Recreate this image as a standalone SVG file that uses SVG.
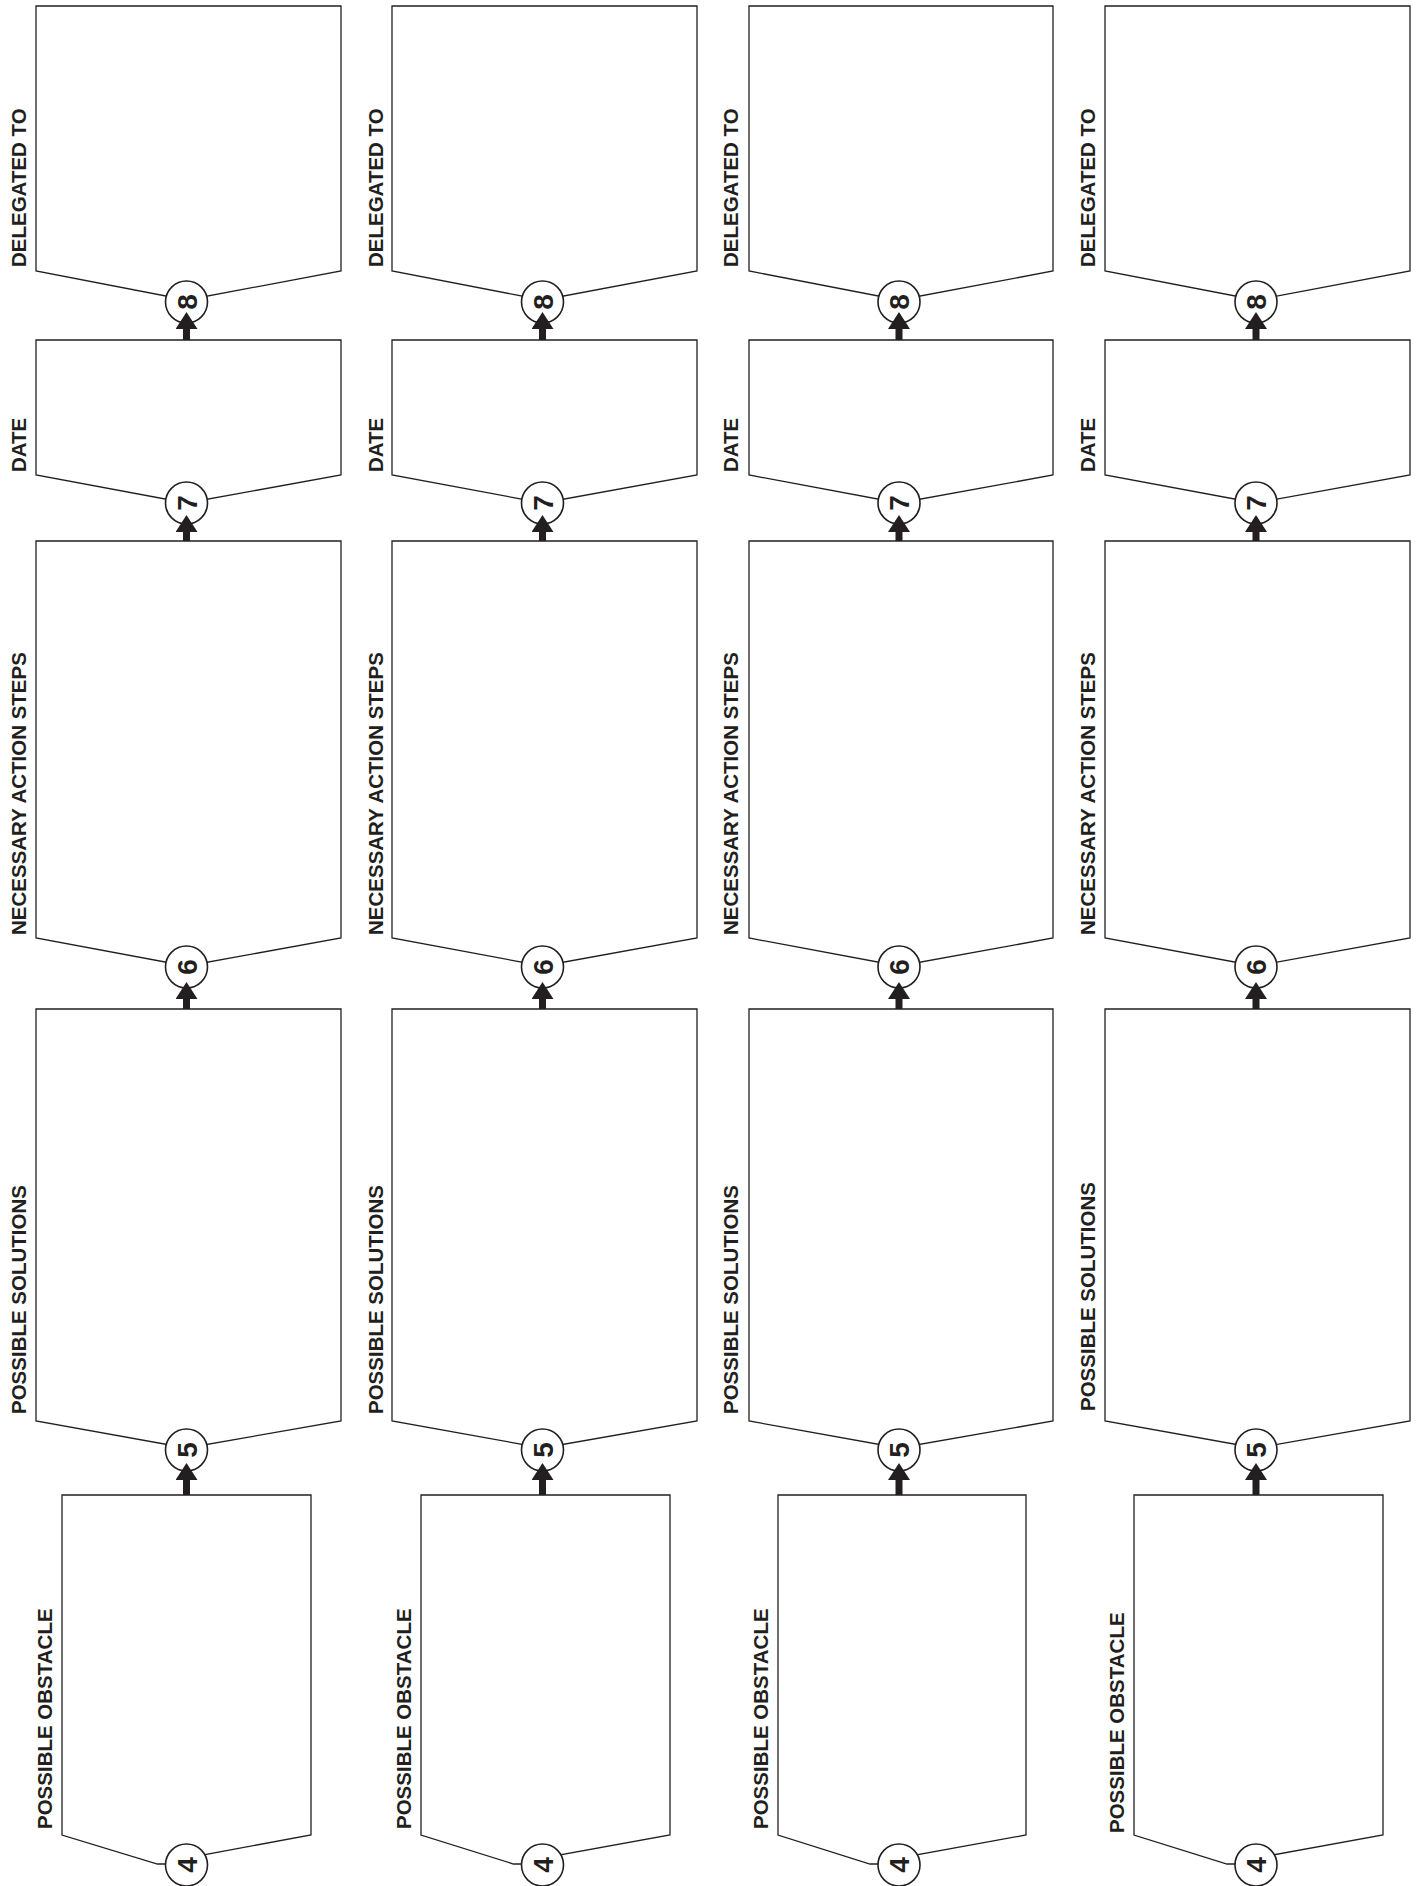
<svg xmlns="http://www.w3.org/2000/svg" width="1422" height="1886" viewBox="0 0 1422 1886">
<style>
.box{fill:#fff;stroke:#231f20;stroke-width:1.3;stroke-linejoin:miter}
.num{fill:#fff;stroke:#231f20;stroke-width:1.6}
.lbl{font-family:"Liberation Sans",Arial,Helvetica,sans-serif;font-weight:bold;font-size:20.5px;fill:#231f20}
.dig{font-family:"Liberation Sans",Arial,Helvetica,sans-serif;font-weight:bold;font-size:28px;fill:#231f20;text-anchor:middle}
.arr{stroke:#231f20;stroke-width:7;fill:none;marker-end:url(#head)}
</style>
<defs>
<marker id="head" viewBox="0 0 17 22" refX="0" refY="11" markerWidth="17" markerHeight="22" markerUnits="userSpaceOnUse" orient="auto">
<path d="M0,0 L17,11 L0,22 Z" fill="#231f20"/>
</marker>
</defs>
<rect width="1422" height="1886" fill="#fff"/>

<!-- Column 1 -->
<g id="c1-n8"><path class="box" d="M36,6 H341 V271 L186.5,300 L36,271 Z"/><circle class="num" cx="186.5" cy="302" r="21"/><text class="dig" dy="0.36em" transform="translate(186.5,302) rotate(-90)">8</text><text class="lbl" transform="translate(26,267) rotate(-90)">DELEGATED TO</text></g>
<g id="c1-n7"><path class="box" d="M36,340 H341 V475 L186.5,503 L36,475 Z"/><circle class="num" cx="186.5" cy="503" r="21"/><text class="dig" dy="0.36em" transform="translate(186.5,503) rotate(-90)">7</text><text class="lbl" transform="translate(26,472) rotate(-90)">DATE</text></g>
<g id="c1-n6"><path class="box" d="M36,541 H341 V938 L186.5,966 L36,938 Z"/><circle class="num" cx="186.5" cy="967" r="21"/><text class="dig" dy="0.36em" transform="translate(186.5,967) rotate(-90)">6</text><text class="lbl" transform="translate(26,935) rotate(-90)">NECESSARY ACTION STEPS</text></g>
<g id="c1-n5"><path class="box" d="M36,1009 H341 V1421 L186.5,1448 L36,1421 Z"/><circle class="num" cx="186.5" cy="1450" r="21"/><text class="dig" dy="0.36em" transform="translate(186.5,1450) rotate(-90)">5</text><text class="lbl" transform="translate(26,1414) rotate(-90)">POSSIBLE SOLUTIONS</text></g>
<g id="c1-n4"><path class="box" d="M62,1495 H311 V1835 L186.5,1858 V1864 H157.5 L62,1835 Z"/><circle class="num" cx="186.5" cy="1865" r="21"/><text class="dig" dy="0.36em" transform="translate(186.5,1865) rotate(-90)">4</text><text class="lbl" transform="translate(52,1829) rotate(-90)">POSSIBLE OBSTACLE</text></g>

<!-- Column 2 -->
<g id="c2-n8"><path class="box" d="M392,6 H697 V271 L542.5,300 L392,271 Z"/><circle class="num" cx="542.5" cy="302" r="21"/><text class="dig" dy="0.36em" transform="translate(542.5,302) rotate(-90)">8</text><text class="lbl" transform="translate(383,267) rotate(-90)">DELEGATED TO</text></g>
<g id="c2-n7"><path class="box" d="M392,340 H697 V475 L542.5,503 L392,475 Z"/><circle class="num" cx="542.5" cy="503" r="21"/><text class="dig" dy="0.36em" transform="translate(542.5,503) rotate(-90)">7</text><text class="lbl" transform="translate(383,472) rotate(-90)">DATE</text></g>
<g id="c2-n6"><path class="box" d="M392,541 H697 V938 L542.5,966 L392,938 Z"/><circle class="num" cx="542.5" cy="967" r="21"/><text class="dig" dy="0.36em" transform="translate(542.5,967) rotate(-90)">6</text><text class="lbl" transform="translate(383,935) rotate(-90)">NECESSARY ACTION STEPS</text></g>
<g id="c2-n5"><path class="box" d="M392,1009 H697 V1421 L542.5,1448 L392,1421 Z"/><circle class="num" cx="542.5" cy="1450" r="21"/><text class="dig" dy="0.36em" transform="translate(542.5,1450) rotate(-90)">5</text><text class="lbl" transform="translate(383,1414) rotate(-90)">POSSIBLE SOLUTIONS</text></g>
<g id="c2-n4"><path class="box" d="M421,1495 H670 V1835 L542.5,1858 V1864 H513.5 L421,1835 Z"/><circle class="num" cx="542.5" cy="1865" r="21"/><text class="dig" dy="0.36em" transform="translate(542.5,1865) rotate(-90)">4</text><text class="lbl" transform="translate(411,1829) rotate(-90)">POSSIBLE OBSTACLE</text></g>

<!-- Column 3 -->
<g id="c3-n8"><path class="box" d="M749,6 H1053 V271 L899,300 L749,271 Z"/><circle class="num" cx="899" cy="302" r="21"/><text class="dig" dy="0.36em" transform="translate(899,302) rotate(-90)">8</text><text class="lbl" transform="translate(738,267) rotate(-90)">DELEGATED TO</text></g>
<g id="c3-n7"><path class="box" d="M749,340 H1053 V475 L899,503 L749,475 Z"/><circle class="num" cx="899" cy="503" r="21"/><text class="dig" dy="0.36em" transform="translate(899,503) rotate(-90)">7</text><text class="lbl" transform="translate(738,472) rotate(-90)">DATE</text></g>
<g id="c3-n6"><path class="box" d="M749,541 H1053 V938 L899,966 L749,938 Z"/><circle class="num" cx="899" cy="967" r="21"/><text class="dig" dy="0.36em" transform="translate(899,967) rotate(-90)">6</text><text class="lbl" transform="translate(738,935) rotate(-90)">NECESSARY ACTION STEPS</text></g>
<g id="c3-n5"><path class="box" d="M749,1009 H1053 V1421 L899,1448 L749,1421 Z"/><circle class="num" cx="899" cy="1450" r="21"/><text class="dig" dy="0.36em" transform="translate(899,1450) rotate(-90)">5</text><text class="lbl" transform="translate(738,1414) rotate(-90)">POSSIBLE SOLUTIONS</text></g>
<g id="c3-n4"><path class="box" d="M778,1495 H1026 V1835 L899,1858 V1864 H870 L778,1835 Z"/><circle class="num" cx="899" cy="1865" r="21"/><text class="dig" dy="0.36em" transform="translate(899,1865) rotate(-90)">4</text><text class="lbl" transform="translate(768,1829) rotate(-90)">POSSIBLE OBSTACLE</text></g>

<!-- Column 4 -->
<g id="c4-n8"><path class="box" d="M1105,6 H1410 V271 L1256,300 L1105,271 Z"/><circle class="num" cx="1256" cy="302" r="21"/><text class="dig" dy="0.36em" transform="translate(1256,302) rotate(-90)">8</text><text class="lbl" transform="translate(1095,267) rotate(-90)">DELEGATED TO</text></g>
<g id="c4-n7"><path class="box" d="M1105,340 H1410 V475 L1256,503 L1105,475 Z"/><circle class="num" cx="1256" cy="503" r="21"/><text class="dig" dy="0.36em" transform="translate(1256,503) rotate(-90)">7</text><text class="lbl" transform="translate(1095,472) rotate(-90)">DATE</text></g>
<g id="c4-n6"><path class="box" d="M1105,541 H1410 V938 L1256,966 L1105,938 Z"/><circle class="num" cx="1256" cy="967" r="21"/><text class="dig" dy="0.36em" transform="translate(1256,967) rotate(-90)">6</text><text class="lbl" transform="translate(1095,935) rotate(-90)">NECESSARY ACTION STEPS</text></g>
<g id="c4-n5"><path class="box" d="M1105,1009 H1410 V1421 L1256,1448 L1105,1421 Z"/><circle class="num" cx="1256" cy="1450" r="21"/><text class="dig" dy="0.36em" transform="translate(1256,1450) rotate(-90)">5</text><text class="lbl" transform="translate(1095,1411) rotate(-90)">POSSIBLE SOLUTIONS</text></g>
<g id="c4-n4"><path class="box" d="M1134,1495 H1383 V1835 L1256,1858 V1864 H1227 L1134,1835 Z"/><circle class="num" cx="1256" cy="1865" r="21"/><text class="dig" dy="0.36em" transform="translate(1256,1865) rotate(-90)">4</text><text class="lbl" transform="translate(1124,1833) rotate(-90)">POSSIBLE OBSTACLE</text></g>

<g id="connectors">
<line class="arr" x1="186.5" y1="340" x2="186.5" y2="329"/>
<line class="arr" x1="186.5" y1="541" x2="186.5" y2="532"/>
<line class="arr" x1="186.5" y1="1009" x2="186.5" y2="999"/>
<line class="arr" x1="186.5" y1="1495" x2="186.5" y2="1480"/>
<line class="arr" x1="542.5" y1="340" x2="542.5" y2="329"/>
<line class="arr" x1="542.5" y1="541" x2="542.5" y2="532"/>
<line class="arr" x1="542.5" y1="1009" x2="542.5" y2="999"/>
<line class="arr" x1="542.5" y1="1495" x2="542.5" y2="1480"/>
<line class="arr" x1="899" y1="340" x2="899" y2="329"/>
<line class="arr" x1="899" y1="541" x2="899" y2="532"/>
<line class="arr" x1="899" y1="1009" x2="899" y2="999"/>
<line class="arr" x1="899" y1="1495" x2="899" y2="1480"/>
<line class="arr" x1="1256" y1="340" x2="1256" y2="329"/>
<line class="arr" x1="1256" y1="541" x2="1256" y2="532"/>
<line class="arr" x1="1256" y1="1009" x2="1256" y2="999"/>
<line class="arr" x1="1256" y1="1495" x2="1256" y2="1480"/>
</g>
</svg>
